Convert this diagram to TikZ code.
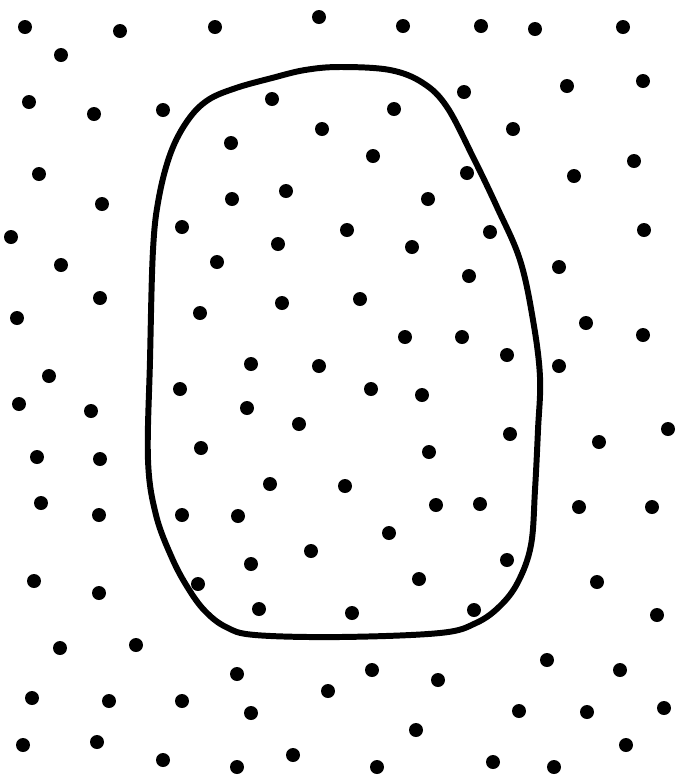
\documentclass[tikz,border=0pt]{standalone}
\usepackage{tikz}
\usetikzlibrary{calc}

\begin{document}
\begin{tikzpicture}[
    x={(0.02cm,0)}, y={(0,-0.02cm)},
    dot/.style={fill=black},
    region/.style={draw=black, line width=3.4pt, line join=round},
]
    \useasboundingbox (0,0) rectangle (681,779);

    % the closed region
    \draw[region] plot[smooth cycle, tension=0.6] coordinates {
        (340,67) (390,70) (423,83) (447,107) (473,157) (497,207) (520,260)
        (533,320) (540,377) (538,430) (535,490) (531,545) (518,582) (500,606)
        (476,623) (440,633) (340,637) (255,635) (226,627) (205,611) (188,588)
        (172,558) (156,515) (148,460) (150,360) (153,250) (159,197) (171,152)
        (188,120) (208,100) (236,88) (272,78) (305,70)};

    % scattered points
    \foreach \px/\py in {
        25/27, 120/31, 215/27, 319/17, 403/26, 481/26, 535/29, 623/27,
        61/55, 29/102, 94/114, 163/110, 272/99, 394/109, 464/92, 567/86, 643/81,
        322/129, 231/143, 513/129, 373/156, 39/174, 286/191, 232/199, 102/204,
        467/173, 574/176, 634/161, 428/199, 182/227, 11/237, 278/244, 347/230,
        490/232, 644/230, 412/247, 61/265, 217/262, 469/276, 559/267,
        100/298, 17/318, 200/313, 282/303, 360/299, 586/323, 643/335,
        405/337, 462/337, 507/355, 49/376, 251/364, 319/366, 559/366,
        19/404, 91/411, 180/389, 371/389, 422/395, 247/408, 299/424,
        510/434, 668/429, 599/442, 37/457, 100/459, 201/448, 429/452,
        270/484, 345/486, 41/503, 99/515, 182/515, 238/516, 436/505,
        480/504, 579/507, 652/507, 389/533, 311/551, 251/564, 507/560,
        34/581, 99/593, 198/584, 419/579, 597/582, 259/609, 352/613,
        474/610, 657/615, 60/648, 136/645, 547/660, 620/670, 237/674,
        372/670, 438/680, 32/698, 109/701, 182/701, 328/691, 664/708,
        519/711, 587/712, 251/713, 416/730, 23/745, 97/742, 163/760,
        237/767, 293/755, 377/767, 493/762, 554/767, 626/745}
        \fill[dot] (\px,\py) circle[radius=7];
\end{tikzpicture}
\end{document}
